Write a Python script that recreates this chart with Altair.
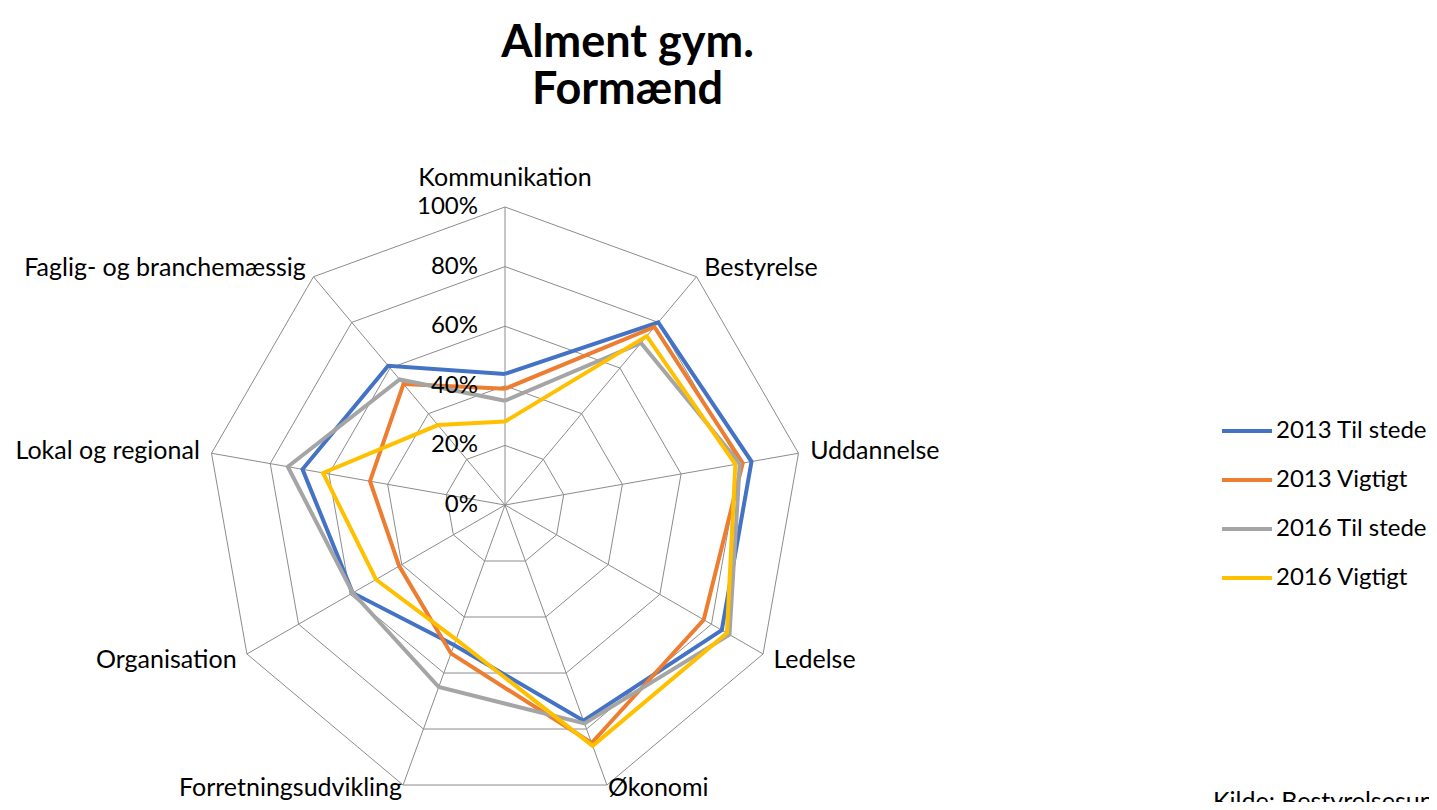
import altair as alt
import pandas as pd

categories = ["Kommunikation", "Bestyrelse", "Uddannelse", "Ledelse", "Økonomi",
              "Forretningsudvikling", "Organisation", "Lokal og regional",
              "Faglig- og branchemæssig"]
series_names = ["2013 Til stede", "2013 Vigtigt", "2016 Til stede", "2016 Vigtigt"]
til_stede_2013 = [44, 80, 84, 84, 77, 50, 59, 69, 61]
vigtigt_2013 = [39, 78, 81, 77, 85, 53, 41, 46, 53]
til_stede_2016 = [35, 71, 80, 87, 78, 65, 59, 74, 55]
vigtigt_2016 = [28, 74, 78.5, 86, 86, 48, 50, 62, 35]
series_colors = ["#4472C4", "#ED7D31", "#A5A5A5", "#FFC000"]
grid_levels = [0, 20, 40, 60, 80, 100]
grid_labels = ["0%", "20%", "40%", "60%", "80%", "100%"]
source_text = "Kilde: Bestyrelsesundersøgelse"

N = len(categories)
FONT = "Lato"
W, H = 1421, 794
PX = 2.98
CX, CY = 505 - 8, 505 - 8
XMIN = -CX / PX
XMAX = XMIN + W / PX
YMAX = CY / PX
YMIN = YMAX - H / PX

ANG = f"datum.i * 2 * PI / {N}"

# series data (closed polygons)
rows = []
for s, vals in zip(series_names, [til_stede_2013, vigtigt_2013, til_stede_2016, vigtigt_2016]):
    for i, v in enumerate(vals + [vals[0]]):
        rows.append({"series": s, "i": i, "value": v})
series_df = pd.DataFrame(rows)

grid_rows = []
for lv in grid_levels[1:]:
    for i in range(N + 1):
        grid_rows.append({"level": lv, "i": i})
grid_df = pd.DataFrame(grid_rows)

spoke_df = pd.DataFrame({"i": list(range(N)), "r": [grid_levels[-1]] * N, "z": [0] * N})
pct_df = pd.DataFrame({"level": grid_levels, "label": grid_labels, "z": [0] * len(grid_levels)})
cat_df = pd.DataFrame({"i": list(range(N)), "cat": categories})

xs = alt.Scale(domain=[XMIN, XMAX], nice=False, zero=False)
ys = alt.Scale(domain=[YMIN, YMAX], nice=False, zero=False)

def X(f):
    return alt.X(f, type="quantitative", scale=xs, axis=None)

def Y(f):
    return alt.Y(f, type="quantitative", scale=ys, axis=None)

grid = alt.Chart(grid_df).transform_calculate(
    x=f"datum.level * sin({ANG})", y=f"datum.level * cos({ANG})"
).mark_line(color="#8c8c8c", strokeWidth=1).encode(
    x=X("x"), y=Y("y"), detail="level:N", order="i:Q"
)

spokes = alt.Chart(spoke_df).transform_calculate(
    x2=f"datum.r * sin({ANG})", y2=f"datum.r * cos({ANG})"
).mark_rule(color="#8c8c8c", strokeWidth=1).encode(
    x=X("z"), y=Y("z"), x2="x2:Q", y2="y2:Q"
)

color_scale = alt.Scale(domain=series_names, range=series_colors)
legend = alt.Legend(
    orient="none", legendX=1212, legendY=396, title=None,
    symbolType="stroke", symbolSize=2500, symbolStrokeWidth=4,
    labelFont=FONT, labelFontSize=24, labelColor="black", labelOffset=2,
    rowPadding=10, padding=0,
)

line_layers = []
for s in series_names:
    line_layers.append(
        alt.Chart(series_df).transform_filter(alt.datum.series == s).transform_calculate(
            x=f"datum.value * sin({ANG})", y=f"datum.value * cos({ANG})"
        ).mark_line(strokeWidth=4, strokeJoin="miter").encode(
            x=X("x"), y=Y("y"), order="i:Q",
            color=alt.Color("series:N", scale=color_scale, legend=legend),
        )
    )

pct = alt.Chart(pct_df).mark_text(
    align="right", baseline="middle", dx=-27, font=FONT, fontSize=24, color="black"
).encode(x=X("z"), y=Y("level"), text="label:N")

cats = alt.Chart(cat_df).transform_calculate(
    rr=f"abs(cos({ANG})) > 0.9 ? (cos({ANG}) > 0 ? 105.5 : 101) : 104",
    x=f"datum.rr * sin({ANG})", y=f"datum.rr * cos({ANG})",
    al=f"sin({ANG}) > 0.1 ? 'left' : (sin({ANG}) < -0.1 ? 'right' : 'center')",
    bl=f"cos({ANG}) > 0.9 ? 'bottom' : 'middle'",
).mark_text(
    font=FONT, fontSize=25, color="black",
    align=alt.expr("datum.al"), baseline=alt.expr("datum.bl"),
).encode(x=X("x"), y=Y("y"), text="cat:N")

source = alt.Chart(pd.DataFrame({"t": [source_text]})).mark_text(
    align="left", baseline="alphabetic", font=FONT, fontSize=25, color="black"
).encode(x=alt.value(1205), y=alt.value(802), text="t:N")

chart = alt.layer(grid, spokes, *line_layers, pct, cats, source).properties(
    width=W, height=H,
    title=alt.TitleParams(
        ["Alment gym.", "Formænd"], font=FONT, fontSize=45, fontWeight="bold",
        color="black", anchor="middle", frame="group", dx=-91, dy=109, lineHeight=47,
    ),
    autosize=alt.AutoSizeParams(type="none"),
    padding=0,
).configure(background="white").configure_view(stroke=None)

chart.save("out.html", embed_options={"renderer": "svg", "actions": False})
